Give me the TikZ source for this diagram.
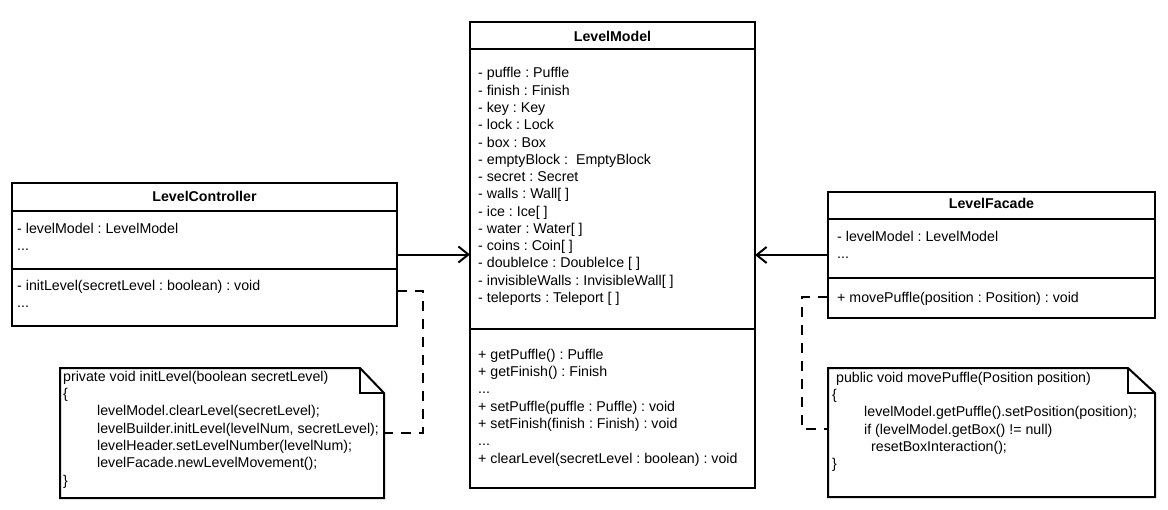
\documentclass[tikz,border=0pt]{standalone}
\usepackage{fontspec}
\setmainfont{Liberation Sans}
\usetikzlibrary{arrows.meta}
\begin{document}
\frenchspacing
\begin{tikzpicture}[x=1pt,y=-1pt,
  classbox/.style={draw=black, line width=2pt, fill=white, anchor=north west, inner sep=0pt, outer sep=0pt},
  hdr/.style={anchor=base, inner sep=0pt, font=\fontsize{14.2pt}{17.28pt}\selectfont\bfseries},
  txt/.style={anchor=north west, inner sep=0pt, align=left, yshift=12.096pt, font=\fontsize{14.2pt}{17.28pt}\selectfont\frenchspacing, execute at begin node=\strut},
  divline/.style={line width=2pt},
  assoc/.style={line width=2pt, -{Straight Barb[length=10pt,width=16pt]}},
  depline/.style={line width=2pt, dash pattern=on 10pt off 8pt},
  notebox/.style={line width=2pt, line join=miter},
  noteframe/.style={minimum width=#1, anchor=north west, inner sep=0pt, outer sep=0pt}
]
\fill[white] (0,0) rectangle (1168,509);
\useasboundingbox (0,0) rectangle (1168,509);

% class boxes
\node[classbox, minimum width=385pt, minimum height=143pt] (lc) at (12,183) {};
\node[classbox, minimum width=285pt, minimum height=466pt] (lm) at (470,22) {};
\node[classbox, minimum width=327pt, minimum height=126pt] (lf) at (828,192) {};

\draw[divline] ([yshift=-28pt]lc.north west) -- ([yshift=-28pt]lc.north east);
\draw[divline] ([yshift=-86pt]lc.north west) -- ([yshift=-86pt]lc.north east);
\draw[divline] ([yshift=-27pt]lm.north west) -- ([yshift=-27pt]lm.north east);
\draw[divline] ([yshift=-307pt]lm.north west) -- ([yshift=-307pt]lm.north east);
\draw[divline] ([yshift=-27pt]lf.north west) -- ([yshift=-27pt]lf.north east);
\draw[divline] ([yshift=-86pt]lf.north west) -- ([yshift=-86pt]lf.north east);

% headers
\node[hdr] (lct) at (204.5,201) {LevelController};
\node[hdr] (lmt) at (612.5,41) {LevelModel};
\node[hdr] (lft) at (991.5,208) {LevelFacade};

% compartments
\node[txt] (lca) at (17,235) {- levelModel : LevelModel\\...};
\node[txt] (lco) at (17,292) {- initLevel(secretLevel : boolean) : void\\...};

\node[txt] (lma) at (478,79.5) {- puffle : Puffle\\
- finish : Finish\\
- key : Key\\
- lock : Lock\\
- box : Box\\
- emptyBlock :\ \ EmptyBlock\\
- secret : Secret\\
- walls : Wall[ ]\\
- ice : Ice[ ]\\
- water : Water[ ]\\
- coins : Coin[ ]\\
- doubleIce : DoubleIce [ ]\\
- invisibleWalls : InvisibleWall[ ]\\
- teleports : Teleport [ ]};

\node[txt] (lmo) at (478,361) {+ getPuffle() : Puffle\\
+ getFinish() : Finish\\
...\\
+ setPuffle(puffle : Puffle) : void\\
+ setFinish(finish : Finish) : void\\
...\\
+ clearLevel(secretLevel : boolean) : void};

\node[txt] (lfa) at (837,243) {- levelModel : LevelModel\\...};
\node[txt] (lfo) at (837,302) {+ movePuffle(position : Position) : void};

% notes
\node[noteframe=324pt, minimum height=130pt] (nl) at (60,368) {};
\draw[notebox] (nl.north west) -- ([xshift=-24pt]nl.north east) -- ([yshift=-25pt]nl.north east) -- (nl.south east) -- (nl.south west) -- cycle;
\draw[notebox] ([xshift=-24pt]nl.north east) -- ([xshift=-24pt,yshift=-25pt]nl.north east) -- ([yshift=-25pt]nl.north east);
\node[txt] (nlt) at (63,383) {private void initLevel(boolean secretLevel)\\
\{\\
\hspace*{34pt}levelModel.clearLevel(secretLevel);\\
\hspace*{34pt}levelBuilder.initLevel(levelNum, secretLevel);\\
\hspace*{34pt}levelHeader.setLevelNumber(levelNum);\\
\hspace*{34pt}levelFacade.newLevelMovement();\\
\}};

\node[noteframe=327pt, minimum height=129pt] (nr) at (828,368) {};
\draw[notebox] (nr.north west) -- ([xshift=-27pt]nr.north east) -- ([yshift=-25pt]nr.north east) -- (nr.south east) -- (nr.south west) -- cycle;
\draw[notebox] ([xshift=-27pt]nr.north east) -- ([xshift=-27pt,yshift=-25pt]nr.north east) -- ([yshift=-25pt]nr.north east);
\node[txt] (nrt) at (832,384) {\ public void movePuffle(Position position)\\
\{\\
\hspace*{32pt}levelModel.getPuffle().setPosition(position);\\
\hspace*{32pt}if (levelModel.getBox() != null)\\
\hspace*{39pt}resetBoxInteraction();\\
\}};

% associations
\draw[assoc] (lc.east) -- (lc.east -| lm.west);
\draw[assoc] (lf.west) -- (lf.west -| lm.east);

% note links
\coordinate (lbend) at (423,433);
\draw[depline] ([yshift=-108pt]lc.north east) -| (lbend) -- ([yshift=-65pt]nl.north east);
\coordinate (rbend) at (802,429);
\draw[depline] ([yshift=-105pt]lf.north west) -| (rbend) -- ([yshift=-61pt]nr.north west);
\end{tikzpicture}
\end{document}
